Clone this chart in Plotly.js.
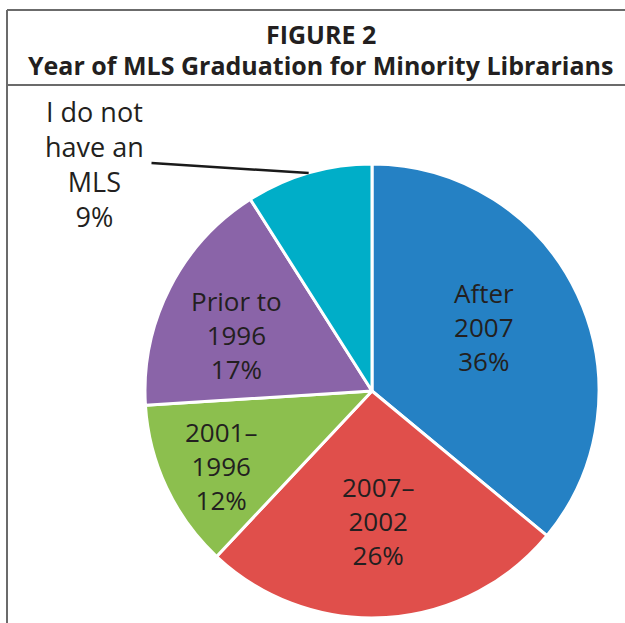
<!DOCTYPE html>
<html>
<head>
<meta charset="utf-8">
<script src="https://cdn.plot.ly/plotly-3.0.1.min.js"></script>
<style>html,body{margin:0;padding:0;background:#fff;}#chart{width:625px;height:623px;}</style>
</head>
<body>
<div id="chart"></div>
<script>
// ---- data ----
const categories = ["After 2007", "2007–2002", "2001–1996", "Prior to 1996", "I do not have an MLS"];
const values = [36, 26, 12, 17, 9];
const labelLines = [["After", "2007"], ["2007–", "2002"], ["2001–", "1996"], ["Prior to", "1996"], ["I do not", "have an", "MLS"]];
const colors = ["#2581c4", "#e04f4b", "#8cbf4e", "#8a64a8", "#00aec8"];
const titleLine1 = "FIGURE 2";
const titleLine2 = "Year of MLS Graduation for Minority Librarians";

// ---- layout geometry (pixels) ----
const W = 625, H = 623;
const CX = 372, CY = 391, R = 227;
const labelR = [0.568, 0.573, 0.743, 0.644];
const labelShift = [-4.5, 1, -1.2, -4.5];
const FONT = "'Open Sans', 'Noto Sans', sans-serif";
const TXT = "#231f20";

function px2x(x) { return x / W; }
function px2y(y) { return 1 - y / H; }

const total = values.reduce((a, b) => a + b, 0);
let cum = 0;
const mids = values.map(v => { const m = (cum + v / 2) / total * 360; cum += v; return m; });

const annotations = [];
// inside labels
for (let i = 0; i < 4; i++) {
  const ang = (mids[i] + labelShift[i]) * Math.PI / 180;
  const r = labelR[i] * R;
  const x = CX + r * Math.sin(ang), y = CY - r * Math.cos(ang);
  const lines = labelLines[i].concat([values[i] + "%"]);
  annotations.push({
    xref: "paper", yref: "paper", x: px2x(x), y: px2y(y),
    text: lines.join("<br>"), showarrow: false, xanchor: "center", yanchor: "middle", align: "center",
    font: {family: FONT, size: 26, color: TXT}
  });
}
// outside label with leader line
{
  const i = 4;
  const ang = mids[i] * Math.PI / 180;
  const ex = CX + R * Math.sin(ang), ey = CY - R * Math.cos(ang);
  const tx = 94, ty = 164;
  const lines = labelLines[i].concat([values[i] + "%"]);
  annotations.push({
    xref: "paper", yref: "paper", x: px2x(ex), y: px2y(ey),
    ax: 150 - ex, ay: 163 - ey, text: "", showarrow: true, arrowhead: 0,
    arrowwidth: 2.5, arrowcolor: "#1a1a1a", standoff: 0, startstandoff: 0
  });
  annotations.push({
    xref: "paper", yref: "paper", x: px2x(tx), y: px2y(ty),
    text: lines.join("<br>"), showarrow: false, xanchor: "center", yanchor: "middle", align: "center",
    font: {family: FONT, size: 27, color: TXT}
  });
}
// title
annotations.push({xref: "paper", yref: "paper", x: px2x(321), y: px2y(34), text: "<b>" + titleLine1 + "</b>",
  showarrow: false, xanchor: "center", yanchor: "middle", font: {family: FONT, size: 25, color: TXT}});
annotations.push({xref: "paper", yref: "paper", x: px2x(321), y: px2y(65), text: "<b>" + titleLine2 + "</b>",
  showarrow: false, xanchor: "center", yanchor: "middle", font: {family: FONT, size: 25, color: TXT}});

const lineStyle = {color: "#6b6b6b", width: 2};
const shapes = [
  {type: "line", xref: "paper", yref: "paper", x0: px2x(7), x1: px2x(7), y0: px2y(10), y1: px2y(623), line: lineStyle},
  {type: "line", xref: "paper", yref: "paper", x0: px2x(7), x1: px2x(625), y0: px2y(10), y1: px2y(10), line: lineStyle},
  {type: "line", xref: "paper", yref: "paper", x0: px2x(7), x1: px2x(625), y0: px2y(85), y1: px2y(85), line: lineStyle}
];

const trace = {
  type: "pie", labels: categories, values: values, sort: false, direction: "clockwise", rotation: 0,
  marker: {colors: colors, line: {color: "#ffffff", width: 3}},
  textinfo: "none", hoverinfo: "label+percent", showlegend: false,
  domain: {x: [px2x(CX - R), px2x(CX + R)], y: [px2y(CY + R), px2y(CY - R)]}
};

Plotly.newPlot("chart", [trace], {
  width: W, height: H, margin: {l: 0, r: 0, t: 0, b: 0},
  paper_bgcolor: "#ffffff", showlegend: false,
  annotations: annotations, shapes: shapes
}, {displayModeBar: false, staticPlot: true});
</script>
</body>
</html>
